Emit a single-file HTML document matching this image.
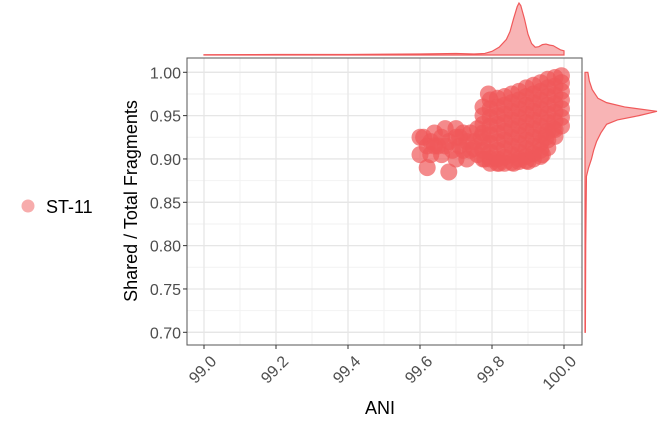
<!DOCTYPE html>
<html><head><meta charset="utf-8"><style>
body{margin:0;background:#fff;}
svg{display:block;font-family:"Liberation Sans",sans-serif;}
</style></head><body>
<svg id="c" width="661" height="426"></svg>
<script>
const xTicks=[99.0,99.2,99.4,99.6,99.8,100.0];
const xTickLabels=["99.0","99.2","99.4","99.6","99.8","100.0"];
const yTicks=[0.70,0.75,0.80,0.85,0.90,0.95,1.00];
const yTickLabels=["0.70","0.75","0.80","0.85","0.90","0.95","1.00"];
const seriesName="ST-11";
const aniVals=[99.60,99.61,99.62,99.63,99.63,99.64,99.65,99.66,99.66,99.67,99.68,99.69,99.70,99.70,99.71,99.72,99.73,99.74,99.74,99.75,99.76,99.76,99.77,99.62,99.68,99.73,99.60,99.70,99.78,99.64,99.72,99.67,99.71,99.75,
99.775,99.775,99.775,99.775,99.775,99.775,99.775,
99.795,99.795,99.795,99.795,99.795,99.795,99.795,99.795,99.795,
99.815,99.815,99.815,99.815,99.815,99.815,99.815,99.815,99.815,
99.835,99.835,99.835,99.835,99.835,99.835,99.835,99.835,99.835,
99.855,99.855,99.855,99.855,99.855,99.855,99.855,99.855,99.855,
99.875,99.875,99.875,99.875,99.875,99.875,99.875,99.875,99.875,99.875,
99.895,99.895,99.895,99.895,99.895,99.895,99.895,99.895,99.895,99.895,
99.915,99.915,99.915,99.915,99.915,99.915,99.915,99.915,99.915,99.915,
99.935,99.935,99.935,99.935,99.935,99.935,99.935,99.935,99.935,99.935,
99.955,99.955,99.955,99.955,99.955,99.955,99.955,99.955,99.955,
99.975,99.975,99.975,99.975,99.975,99.975,99.975,99.975,
99.993,99.993,99.993,99.993,99.993,99.993,99.993,
99.82,99.86,99.90,99.94,99.97,99.79,99.95];
const fracVals=[0.905,0.925,0.915,0.920,0.905,0.930,0.915,0.925,0.905,0.935,0.920,0.910,0.925,0.935,0.915,0.930,0.920,0.910,0.930,0.920,0.935,0.905,0.925,0.890,0.885,0.900,0.925,0.900,0.900,0.915,0.910,0.915,0.925,0.912,
0.960,0.950,0.940,0.930,0.920,0.910,0.900,
0.968,0.958,0.948,0.938,0.928,0.918,0.908,0.900,0.895,
0.970,0.960,0.950,0.940,0.930,0.920,0.910,0.900,0.895,
0.972,0.962,0.952,0.942,0.932,0.922,0.912,0.902,0.895,
0.975,0.965,0.955,0.945,0.935,0.925,0.915,0.905,0.896,
0.978,0.968,0.958,0.948,0.938,0.928,0.918,0.908,0.900,0.897,
0.982,0.972,0.962,0.952,0.942,0.932,0.922,0.912,0.903,0.898,
0.985,0.975,0.965,0.955,0.945,0.935,0.925,0.915,0.906,0.900,
0.988,0.978,0.968,0.958,0.948,0.938,0.928,0.918,0.910,0.903,
0.992,0.982,0.972,0.962,0.952,0.942,0.932,0.922,0.913,
0.994,0.984,0.974,0.964,0.954,0.944,0.934,0.926,
0.996,0.988,0.978,0.968,0.958,0.948,0.938,
0.895,0.895,0.897,0.905,0.935,0.975,0.925];
const densX=[99.0,99.2,99.4,99.6,99.7,99.75,99.78,99.80,99.82,99.84,99.85,99.86,99.87,99.875,99.88,99.89,99.90,99.91,99.92,99.93,99.94,99.95,99.96,99.97,99.98,99.99,100.0];
const densXVal=[0.005,0.01,0.01,0.02,0.03,0.02,0.03,0.07,0.15,0.30,0.45,0.70,0.93,1.00,0.95,0.70,0.40,0.22,0.15,0.16,0.20,0.21,0.19,0.18,0.14,0.10,0.08];
const densY=[0.70,0.80,0.88,0.89,0.90,0.91,0.92,0.93,0.94,0.945,0.95,0.955,0.96,0.965,0.97,0.98,0.99,1.00];
const densYVal=[0.005,0.01,0.02,0.05,0.09,0.12,0.16,0.22,0.30,0.45,0.75,1.00,0.55,0.30,0.18,0.10,0.06,0.04];

const svg=document.getElementById('c');
const NS='http://www.w3.org/2000/svg';
const P={l:187,r:582,t:58,b:345};
const xs=v=>204+(v-99)*360;
const ys=v=>332.3-(v-0.70)*866.7;
function mk(tag,attrs,parent){const e=document.createElementNS(NS,tag);for(const k in attrs)e.setAttribute(k,attrs[k]);(parent||svg).appendChild(e);return e;}

const bg=mk('rect',{x:P.l,y:P.t,width:P.r-P.l,height:P.b-P.t,fill:'#fff'});


for(let v=98.9;v<=100.11;v+=0.1){const x=xs(v);if(x<P.l||x>P.r)continue;const g=mk('line',{x1:x,x2:x,y1:P.t,y2:P.b,stroke:'#f2f2f2','stroke-width':1});}
for(let v=0.675;v<=1.01;v+=0.025){const y=ys(v);if(y<P.t||y>P.b)continue;const g=mk('line',{x1:P.l,x2:P.r,y1:y,y2:y,stroke:'#f2f2f2','stroke-width':1});}
xTicks.forEach(v=>{const g=mk('line',{x1:xs(v),x2:xs(v),y1:P.t,y2:P.b,stroke:'#e6e6e6','stroke-width':1.3});});
yTicks.forEach(v=>{const g=mk('line',{x1:P.l,x2:P.r,y1:ys(v),y2:ys(v),stroke:'#e6e6e6','stroke-width':1.3});});

aniVals.forEach((a,i)=>{const c=mk('circle',{cx:xs(a),cy:ys(fracVals[i]),r:8.5,fill:'#f0595a','fill-opacity':0.7});

});

const border=mk('rect',{x:P.l,y:P.t,width:P.r-P.l,height:P.b-P.t,fill:'none',stroke:'#555','stroke-width':1});



xTicks.forEach((v,i)=>{const x=xs(v);
const t=mk('line',{x1:x,x2:x,y1:P.b,y2:P.b+4,stroke:'#333'});
const tx=mk('text',{x:x+6,y:P.b+10,'font-size':16,fill:'#4d4d4d','text-anchor':'end',transform:`rotate(-45 ${x+6} ${P.b+10})`,'dominant-baseline':'hanging'});
tx.textContent=xTickLabels[i];});
yTicks.forEach((v,i)=>{const y=ys(v);
const t=mk('line',{x1:P.l-4,x2:P.l,y1:y,y2:y,stroke:'#333'});
const tx=mk('text',{x:P.l-6,y:y+6,'font-size':16,fill:'#4d4d4d','text-anchor':'end'});
tx.textContent=yTickLabels[i];});

const xt=mk('text',{x:380,y:414,'font-size':18,fill:'#000','text-anchor':'middle'});xt.textContent='ANI';


const yt=mk('text',{x:137,y:201,'font-size':18,fill:'#000','text-anchor':'middle',transform:'rotate(-90 137 201)'});yt.textContent='Shared / Total Fragments';



const lg=mk('g',{});


mk('circle',{cx:28,cy:206,r:6.5,fill:'#f0595a','fill-opacity':0.5},lg);
const lt=mk('text',{x:46,y:213,'font-size':18,fill:'#000'},lg);lt.textContent=seriesName;

let d=`M${xs(densX[0])},55 `;densX.forEach((v,i)=>{d+=`L${xs(v)},${55-densXVal[i]*52} `;});d+=`L${xs(100)},55 Z`;
const td=mk('path',{d:d,fill:'#f0595a','fill-opacity':0.45,stroke:'#f0595a','stroke-width':1.2});


let d2=`M585,${ys(densY[0])} `;densY.forEach((v,i)=>{d2+=`L${585+densYVal[i]*72},${ys(v)} `;});d2+=`L585,${ys(1.0)} Z`;
const rd=mk('path',{d:d2,fill:'#f0595a','fill-opacity':0.45,stroke:'#f0595a','stroke-width':1.2});


</script>
</body></html>
